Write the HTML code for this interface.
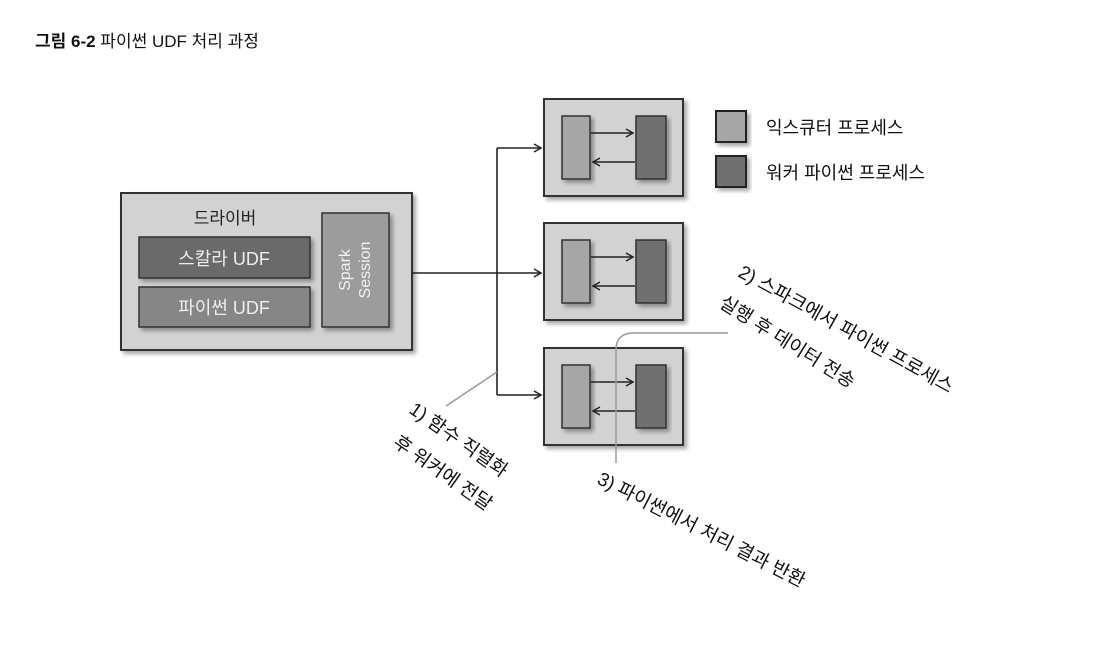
<!DOCTYPE html>
<html><head><meta charset="utf-8"><style>
html,body{margin:0;padding:0;background:#fff;width:1099px;height:652px;overflow:hidden}
svg text{font-family:"Liberation Sans","Noto Sans CJK KR",sans-serif}
</style></head><body>
<svg width="1099" height="652" viewBox="0 0 1099 652" xmlns="http://www.w3.org/2000/svg">
<defs>
<marker id="ar" markerWidth="10" markerHeight="10" refX="8" refY="5" orient="auto" markerUnits="userSpaceOnUse">
<path d="M1,1 L8,5 L1,9" fill="none" stroke="#222" stroke-width="1.5"/></marker>
<filter id="sh" x="-10%" y="-10%" width="130%" height="130%"><feDropShadow dx="3" dy="3" stdDeviation="2" flood-color="#000" flood-opacity="0.35"/></filter>
</defs>
<text x="35" y="47" font-size="17" fill="#111"><tspan font-weight="bold">그림 6-2</tspan> 파이썬 UDF 처리 과정</text>

<!-- driver -->
<rect x="121" y="193" width="291" height="157" fill="#d2d2d2" stroke="#333" stroke-width="2" filter="url(#sh)"/>
<text x="225" y="224" font-size="17" text-anchor="middle" fill="#222">드라이버</text>
<rect x="139" y="237" width="171" height="41" fill="#6a6a6a" stroke="#333" stroke-width="1.5" filter="url(#sh)"/>
<text x="224" y="265" font-size="18" text-anchor="middle" fill="#eee">스칼라 UDF</text>
<rect x="139" y="287" width="171" height="40" fill="#868686" stroke="#333" stroke-width="1.5" filter="url(#sh)"/>
<text x="224" y="314" font-size="18" text-anchor="middle" fill="#eee">파이썬 UDF</text>
<rect x="322" y="213" width="67" height="114" fill="#9c9c9c" stroke="#333" stroke-width="1.5" filter="url(#sh)"/>
<text transform="translate(350,270) rotate(-90)" font-size="16" text-anchor="middle" fill="#f2f2f2">Spark</text>
<text transform="translate(370,270) rotate(-90)" font-size="16" text-anchor="middle" fill="#f2f2f2">Session</text>

<!-- connectors -->
<path d="M412,273 L541,273" stroke="#222" stroke-width="1.6" fill="none" marker-end="url(#ar)"/>
<path d="M497,148 L497,395" stroke="#222" stroke-width="1.6" fill="none"/>
<path d="M497,148 L541,148" stroke="#222" stroke-width="1.6" fill="none" marker-end="url(#ar)"/>
<path d="M497,395 L541,395" stroke="#222" stroke-width="1.6" fill="none" marker-end="url(#ar)"/>

<!-- executors -->
<g id="ex">
<rect x="544" y="99" width="139" height="97" fill="#d2d2d2" stroke="#333" stroke-width="2" filter="url(#sh)"/>
<rect x="562" y="116" width="28" height="63" fill="#a6a6a6" stroke="#333" stroke-width="1.5" filter="url(#sh)"/>
<rect x="636" y="116" width="30" height="63" fill="#707070" stroke="#333" stroke-width="1.5" filter="url(#sh)"/>
<path d="M591,133 L633,133" stroke="#222" stroke-width="1.6" marker-end="url(#ar)"/>
<path d="M635,162 L593,162" stroke="#222" stroke-width="1.6" marker-end="url(#ar)"/>
</g>
<use href="#ex" transform="translate(0,124)"/>
<use href="#ex" transform="translate(0,249)"/>

<!-- annotation lines -->
<path d="M497,372 L446,406" stroke="#999" stroke-width="1.5" fill="none"/>
<path d="M728,333 L632,333 Q616,334 616,350 L616,463" stroke="#999" stroke-width="1.5" fill="none"/>

<!-- legend -->
<rect x="716" y="111" width="30" height="31" fill="#a6a6a6" stroke="#222" stroke-width="2" filter="url(#sh)"/>
<rect x="716" y="156" width="30" height="31" fill="#707070" stroke="#222" stroke-width="2" filter="url(#sh)"/>
<text x="766" y="134" font-size="18" fill="#111">익스큐터 프로세스</text>
<text x="766" y="179" font-size="18" fill="#111">워커 파이썬 프로세스</text>

<!-- rotated labels -->
<text transform="translate(737,276) rotate(29)" font-size="19" fill="#111">2) 스파크에서 파이썬 프로세스</text>
<text transform="translate(718,306) rotate(32)" font-size="19" fill="#111">실행 후 데이터 전송</text>
<text transform="translate(408,412) rotate(35)" font-size="19" fill="#111">1) 함수 직렬화</text>
<text transform="translate(392,445) rotate(35)" font-size="19" fill="#111">후 워커에 전달</text>
<text transform="translate(596,483) rotate(27)" font-size="19" fill="#111">3) 파이썬에서 처리 결과 반환</text>
</svg>
</body></html>
